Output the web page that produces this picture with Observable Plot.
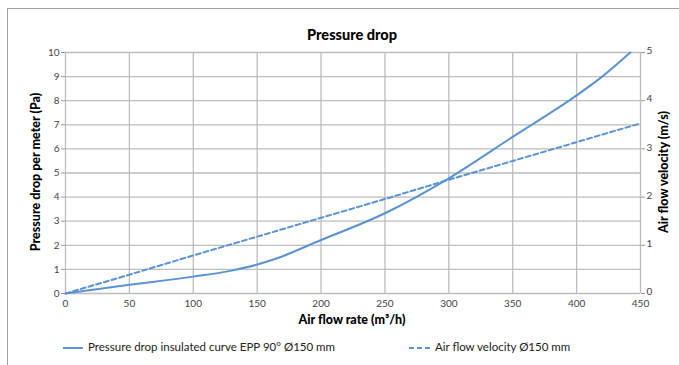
<!DOCTYPE html>
<html><head><meta charset="utf-8">
<script src="https://cdn.jsdelivr.net/npm/d3@7"></script>
<script src="https://cdn.jsdelivr.net/npm/@observablehq/plot@0.6"></script>
<style>
body{margin:0;background:#fff;}
#wrap{position:relative;width:679px;height:365px;overflow:hidden;font-family:Lato,"Open Sans",sans-serif;color:#000}
#frame{position:absolute;left:7px;top:8px;width:720px;height:420px;border-left:1px solid #a0a0a0;border-top:1px solid #a0a0a0;box-sizing:border-box}
#chart{position:absolute;left:0;top:0}
.t{position:absolute;white-space:nowrap;}
#title{left:352px;top:26px;transform:translateX(-50%);font-weight:900;font-size:14.5px}
#xlab{left:352px;top:312px;transform:translateX(-50%);font-weight:900;font-size:12.5px}
#ylab{left:35px;top:172px;transform:translate(-50%,-50%) rotate(-90deg);font-weight:900;font-size:12.5px}
#y2lab{left:663px;top:172px;transform:translate(-50%,-50%) rotate(-90deg);font-weight:900;font-size:12.5px}
.leg{top:340px;font-size:11.5px;color:#222}
</style></head>
<body><div id="wrap">
<div id="frame"></div>
<div id="chart"></div>
<div class="t" id="title"></div>
<div class="t" id="xlab"></div>
<div class="t" id="ylab"></div>
<div class="t" id="y2lab"></div>
<svg class="t" style="left:63px;top:341px" width="20" height="14"><line x1="0" x2="20" y1="7" y2="7" stroke="#5b93d3" stroke-width="2"/></svg>
<div class="t leg" id="leg1" style="left:88px"></div>
<svg class="t" style="left:409px;top:341px" width="22" height="14"><line x1="0" x2="22" y1="7" y2="7" stroke="#5b93d3" stroke-width="2" stroke-dasharray="5,3"/></svg>
<div class="t leg" id="leg2" style="left:435px"></div>
</div>
<script>
const titleText = "Pressure drop";
const xLabel = "Air flow rate (m³/h)";
const yLabel = "Pressure drop per meter (Pa)";
const y2Label = "Air flow velocity (m/s)";
const series1Name = "Pressure drop insulated curve EPP 90° Ø150 mm";
const series2Name = "Air flow velocity Ø150 mm";

const flowRate = [0, 50, 100, 130, 150, 165, 200, 250, 300, 350, 400, 420, 442];
const pressureDrop = [0, 0.36, 0.70, 0.95, 1.2, 1.45, 2.22, 3.33, 4.78, 6.5, 8.22, 9.0, 10];
const velocityFlow = [0, 50, 100, 150, 200, 250, 300, 350, 400, 450];
const velocity = [0, 0.39, 0.79, 1.18, 1.57, 1.96, 2.36, 2.75, 3.14, 3.53];

const xTicks = [0, 50, 100, 150, 200, 250, 300, 350, 400, 450];
const yTicks = [0, 1, 2, 3, 4, 5, 6, 7, 8, 9, 10];
const y2Ticks = [0, 1, 2, 3, 4, 5];
const y2Max = 5, yMax = 10; // secondary axis maps 0..5 onto 0..10

document.getElementById("title").textContent = titleText;
document.getElementById("xlab").textContent = xLabel;
document.getElementById("ylab").textContent = yLabel;
document.getElementById("y2lab").textContent = y2Label;
document.getElementById("leg1").textContent = series1Name;
document.getElementById("leg2").textContent = series2Name;

const k = yMax / y2Max;
const pd = flowRate.map((x, i) => ({x, y: pressureDrop[i]}));
const vel = velocityFlow.map((x, i) => ({x, y: velocity[i] * k}));
const color = "#5b93d3";

const chart = Plot.plot({
  width: 679, height: 365,
  marginLeft: 65, marginRight: 39, marginTop: 52, marginBottom: 72,
  style: {fontFamily: "Lato, 'Open Sans', sans-serif", fontSize: "10px", background: "transparent"},
  x: {domain: [0, 450]},
  y: {domain: [0, 10]},
  marks: [
    Plot.gridX(xTicks, {stroke: "#bdbdbd", strokeOpacity: 1, strokeWidth: 1.3}),
    Plot.gridY(yTicks, {stroke: "#bdbdbd", strokeOpacity: 1, strokeWidth: 1.3}),
    Plot.axisX(xTicks, {tickSize: 0, tickPadding: 6, label: null, fill: "#444"}),
    Plot.axisY(yTicks, {anchor: "left", tickSize: 4, tickPadding: 2, stroke: "#999", label: null, fill: "#444"}),
    Plot.axisY(y2Ticks.map(v => v * k), {anchor: "right", tickSize: 4, stroke: "#999", label: null, tickFormat: () => ""}),
    Plot.axisY(y2Ticks.map(v => v * k), {anchor: "right", tickSize: 0, tickPadding: 6, dy: -1.5, label: null, fill: "#444", tickFormat: d => d / k}),
    Plot.line(vel, {x: "x", y: "y", stroke: color, strokeWidth: 2, strokeDasharray: "5,3"}),
    Plot.line(pd, {x: "x", y: "y", stroke: color, strokeWidth: 2, curve: "monotone-x"})
  ]
});
document.getElementById("chart").appendChild(chart);
</script>
</body></html>
